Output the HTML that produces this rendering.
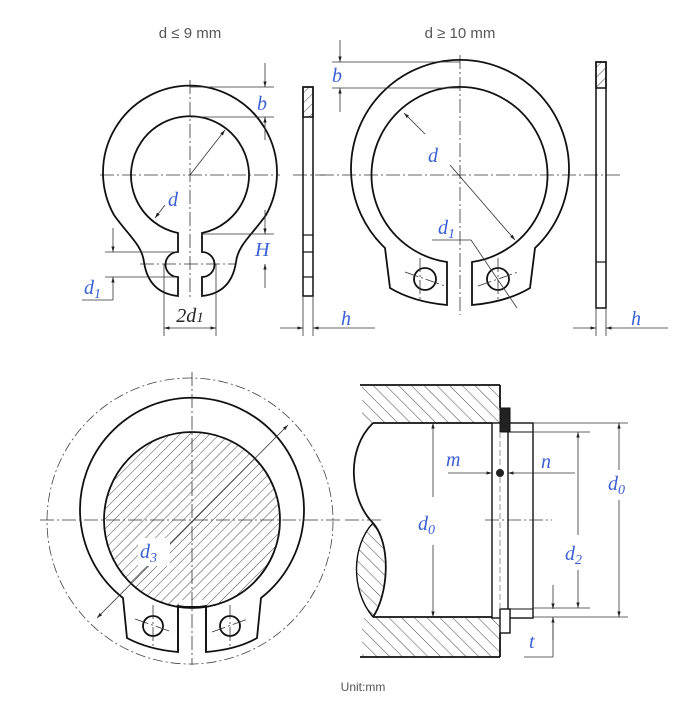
<!DOCTYPE html>
<html><head><meta charset="utf-8"><style>
html,body{margin:0;padding:0;background:#fff;}
svg{display:block;}
.l{fill:none;stroke:#111;stroke-width:1.8;}
.t{fill:none;stroke:#333;stroke-width:0.8;}
.c{fill:none;stroke:#333;stroke-width:0.8;stroke-dasharray:14 3 2 3;}
.lab{font-family:"Liberation Serif",serif;font-style:italic;fill:#3a5fd6;font-size:20px;}
.ti{font-family:"Liberation Sans",sans-serif;fill:#555;font-size:15px;}
</style></head><body>
<svg width="685" height="725" viewBox="0 0 685 725" xmlns="http://www.w3.org/2000/svg">
<defs>
<pattern id="h" width="7" height="7" patternUnits="userSpaceOnUse" patternTransform="rotate(45)">
<line x1="0" y1="0" x2="0" y2="7" stroke="#333" stroke-width="0.9"/></pattern>
<pattern id="h2" width="9" height="9" patternUnits="userSpaceOnUse" patternTransform="rotate(-45)">
<line x1="0" y1="0" x2="0" y2="9" stroke="#333" stroke-width="0.9"/></pattern>
<marker id="a" viewBox="0 0 10 10" refX="10" refY="5" markerWidth="7" markerHeight="7" orient="auto-start-reverse"><path d="M0,2 L10,5 L0,8z" fill="#222"/></marker>
</defs>
<text class="ti" x="190" y="38" text-anchor="middle">d ≤ 9 mm</text>
<text class="ti" x="460" y="38" text-anchor="middle">d ≥ 10 mm</text>

<!-- top-left ring -->
<line class="c" x1="100" y1="175" x2="280" y2="175"/>
<line class="c" x1="190" y1="80" x2="190" y2="300"/>
<line class="c" x1="140" y1="264" x2="235" y2="264"/>
<path class="l" d="M178,296 L178,277 A12,12 0 0 1 178,252 L178,233 A59,59 0 1 1 202,233 L202,252 A12,12 0 0 1 202,277 L202,296 C222,294 233,282 236,262 C238,245 252,235 266,215 A87,87 0 1 0 114,215 C128,235 142,245 144,262 C147,282 158,294 178,296 Z"/>
<line class="t" x1="190" y1="175" x2="225" y2="130" marker-end="url(#a)"/>
<line class="t" x1="165" y1="205" x2="155" y2="218" marker-end="url(#a)"/>
<text class="lab" x="168" y="206">d</text>
<!-- b -->
<line class="t" x1="190" y1="87" x2="274" y2="87"/>
<line class="t" x1="190" y1="117" x2="274" y2="117"/>
<line class="t" x1="265" y1="63" x2="265" y2="87" marker-end="url(#a)"/>
<line class="t" x1="265" y1="140" x2="265" y2="117" marker-end="url(#a)"/>
<text class="lab" x="257" y="110">b</text>
<!-- H -->
<line class="t" x1="202" y1="234" x2="274" y2="234"/>
<line class="t" x1="265" y1="210" x2="265" y2="234" marker-end="url(#a)"/>
<line class="t" x1="265" y1="288" x2="265" y2="264" marker-end="url(#a)"/>
<text class="lab" x="255" y="256">H</text>
<!-- d1 -->
<line class="t" x1="105" y1="252" x2="178" y2="252"/>
<line class="t" x1="105" y1="277" x2="178" y2="277"/>
<line class="t" x1="113" y1="228" x2="113" y2="252" marker-end="url(#a)"/>
<line class="t" x1="113" y1="300" x2="113" y2="277" marker-end="url(#a)"/>
<line class="t" x1="82" y1="300" x2="113" y2="300"/>
<text class="lab" x="84" y="294">d<tspan font-size="14" dy="4">1</tspan></text>
<!-- 2d1 -->
<line class="t" x1="164" y1="264" x2="164" y2="336"/>
<line class="t" x1="216" y1="264" x2="216" y2="336"/>
<line class="t" x1="164" y1="328" x2="216" y2="328" marker-start="url(#a)" marker-end="url(#a)"/>
<text x="190" y="322" text-anchor="middle" font-family="Liberation Serif,serif" font-style="italic" font-size="20" fill="#222">2d<tspan font-size="15">1</tspan></text>
<!-- side view small -->
<line class="c" x1="293" y1="175" x2="325" y2="175"/>
<rect class="l" x="303" y="87" width="10" height="209" style="stroke-width:1.5"/>
<rect x="303" y="87" width="10" height="30" fill="url(#h)" stroke="#111" stroke-width="1.5"/>
<line class="l" x1="303" y1="235" x2="313" y2="235" style="stroke-width:1.2"/>
<line class="l" x1="303" y1="252" x2="313" y2="252" style="stroke-width:1.2"/>
<line class="l" x1="303" y1="277" x2="313" y2="277" style="stroke-width:1.2"/>
<line class="t" x1="303" y1="296" x2="303" y2="336"/>
<line class="t" x1="313" y1="296" x2="313" y2="336"/>
<line class="t" x1="280" y1="328" x2="303" y2="328" marker-end="url(#a)"/>
<line class="t" x1="375" y1="328" x2="313" y2="328" marker-end="url(#a)"/>
<text class="lab" x="341" y="325">h</text>

<!-- top-right ring -->
<line class="c" x1="320" y1="175" x2="620" y2="175"/>
<line class="c" x1="460" y1="55" x2="460" y2="315"/>
<path class="l" d="M447,305 L447,262 A88,88 0 1 1 472,262 L472,305 C495,303 515,297 530,288 L535,248 A109,109 0 1 0 385,248 L390,288 C405,297 425,303 447,305 Z"/>
<circle class="l" cx="425" cy="279" r="11"/>
<circle class="l" cx="498" cy="279" r="11"/>
<line class="c" x1="405" y1="272" x2="445" y2="286"/><line class="c" x1="420" y1="258" x2="420" y2="300"/>
<line class="c" x1="478" y1="286" x2="518" y2="272"/><line class="c" x1="498" y1="258" x2="498" y2="300"/>
<line class="t" x1="450" y1="165" x2="515" y2="240" marker-end="url(#a)"/>
<line class="t" x1="425" y1="134" x2="404" y2="113" marker-end="url(#a)"/>
<text class="lab" x="428" y="162">d</text>
<line class="t" x1="432" y1="240" x2="471" y2="240"/>
<line class="t" x1="471" y1="240" x2="517" y2="308"/>
<text class="lab" x="438" y="234">d<tspan font-size="14" dy="4">1</tspan></text>
<!-- b -->
<line class="t" x1="332" y1="62" x2="460" y2="62"/>
<line class="t" x1="332" y1="88" x2="460" y2="88"/>
<line class="t" x1="340" y1="40" x2="340" y2="62" marker-end="url(#a)"/>
<line class="t" x1="340" y1="112" x2="340" y2="88" marker-end="url(#a)"/>
<text class="lab" x="332" y="82">b</text>
<!-- side view big -->
<rect class="l" x="596" y="62" width="10" height="246" style="stroke-width:1.5"/>
<rect x="596" y="62" width="10" height="26" fill="url(#h)" stroke="#111" stroke-width="1.5"/>
<line class="l" x1="596" y1="262" x2="606" y2="262" style="stroke-width:1.2"/>
<line class="t" x1="596" y1="308" x2="596" y2="336"/>
<line class="t" x1="606" y1="308" x2="606" y2="336"/>
<line class="t" x1="573" y1="328" x2="596" y2="328" marker-end="url(#a)"/>
<line class="t" x1="668" y1="328" x2="606" y2="328" marker-end="url(#a)"/>
<text class="lab" x="631" y="325">h</text>

<!-- bottom-left -->
<circle cx="190" cy="521" r="143" fill="none" stroke="#444" stroke-width="0.8" stroke-dasharray="10 3 2 3"/>
<circle cx="192" cy="520" r="88" fill="url(#h)" stroke="#111" stroke-width="1.8"/>
<path class="l" d="M178,652 L178,606 L206,606 L206,652 C230,650 245,645 257,638 L261,598 A112,112 0 1 0 123,598 L127,638 C140,645 155,650 178,652 Z" style="fill:none"/>
<rect x="179" y="600" width="26" height="6" fill="#fff"/>
<path class="l" d="M178,652 L178,606 M206,606 L206,652"/>
<path d="M178,606 A88,88 0 0 0 206,606" class="l"/>
<circle class="l" cx="153" cy="626" r="10" style="fill:#fff"/>
<circle class="l" cx="230" cy="626" r="10" style="fill:#fff"/>
<line class="c" x1="135" y1="619" x2="172" y2="632"/><line class="c" x1="153" y1="605" x2="153" y2="648"/>
<line class="c" x1="212" y1="632" x2="248" y2="619"/><line class="c" x1="230" y1="605" x2="230" y2="648"/>
<line class="c" x1="40" y1="520" x2="340" y2="520"/>
<line class="c" x1="192" y1="372" x2="192" y2="665"/>
<line class="t" x1="97" y1="618" x2="288" y2="425" marker-start="url(#a)" marker-end="url(#a)"/>
<rect x="138" y="538" width="32" height="28" fill="#fff"/>
<text class="lab" x="140" y="558">d<tspan font-size="14" dy="4">3</tspan></text>

<!-- bottom-right -->
<rect x="362" y="386" width="138" height="37" fill="url(#h2)"/>
<rect x="362" y="618" width="138" height="39" fill="url(#h2)"/>
<line class="l" x1="360" y1="385" x2="500" y2="385"/>
<line class="l" x1="360" y1="657" x2="500" y2="657"/>
<line class="l" x1="373" y1="423" x2="492" y2="423"/>
<line class="l" x1="373" y1="617" x2="492" y2="617"/>
<line class="l" x1="500" y1="385" x2="500" y2="408"/>
<line class="l" x1="500" y1="633" x2="500" y2="657"/>
<path d="M373,523 C385,540 392,580 373,617 C352,590 350,545 373,523 Z" fill="url(#h2)"/>
<path class="l" d="M373,423 C345,450 350,500 373,523 C392,545 388,595 373,617"/>
<path class="l" d="M373,523 C352,545 350,590 373,617" style="stroke-width:1.4"/>
<rect class="l" x="492" y="423" width="41" height="195" style="stroke-width:1.4"/>
<line class="l" x1="508" y1="423" x2="508" y2="618" style="stroke-width:1.4"/>
<line class="l" x1="500" y1="432" x2="533" y2="432" style="stroke-width:1"/>
<line class="l" x1="500" y1="609" x2="533" y2="609" style="stroke-width:1"/>
<rect x="500" y="408" width="10" height="24" fill="#222" stroke="#111"/>
<rect x="500" y="609" width="10" height="24" fill="#fff" stroke="#111" stroke-width="1.4"/>
<line x1="500" y1="432" x2="500" y2="609" stroke="#999" stroke-width="1" stroke-dasharray="6 3"/>
<line class="c" x1="345" y1="520" x2="383" y2="520"/>
<line class="c" x1="485" y1="520" x2="552" y2="520"/>
<!-- d0 left -->
<line class="t" x1="433" y1="497" x2="433" y2="423" marker-end="url(#a)"/>
<line class="t" x1="433" y1="545" x2="433" y2="617" marker-end="url(#a)"/>
<text class="lab" x="418" y="530">d<tspan font-size="14" dy="4">0</tspan></text>
<!-- m n -->
<line class="t" x1="448" y1="473" x2="492" y2="473" marker-end="url(#a)"/>
<line class="t" x1="575" y1="473" x2="508" y2="473" marker-end="url(#a)"/>
<circle cx="500" cy="473" r="4" fill="#222"/>
<text class="lab" x="446" y="466">m</text>
<text class="lab" x="541" y="468">n</text>
<!-- d2 -->
<line class="t" x1="533" y1="432" x2="590" y2="432"/>
<line class="t" x1="533" y1="608" x2="590" y2="608"/>
<line class="t" x1="578" y1="535" x2="578" y2="432" marker-end="url(#a)"/>
<line class="t" x1="578" y1="570" x2="578" y2="608" marker-end="url(#a)"/>
<text class="lab" x="565" y="560">d<tspan font-size="14" dy="4">2</tspan></text>
<!-- d0 right -->
<line class="t" x1="533" y1="423" x2="628" y2="423"/>
<line class="t" x1="533" y1="617" x2="628" y2="617"/>
<line class="t" x1="619" y1="470" x2="619" y2="423" marker-end="url(#a)"/>
<line class="t" x1="619" y1="500" x2="619" y2="617" marker-end="url(#a)"/>
<text class="lab" x="608" y="490">d<tspan font-size="14" dy="4">0</tspan></text>
<!-- t -->
<line class="t" x1="553" y1="585" x2="553" y2="609" marker-end="url(#a)"/>
<line class="t" x1="553" y1="640" x2="553" y2="617" marker-end="url(#a)"/>
<line class="t" x1="553" y1="617" x2="553" y2="657"/>
<line class="t" x1="524" y1="657" x2="553" y2="657"/>
<text class="lab" x="529" y="648">t</text>

<text x="363" y="691" text-anchor="middle" font-family="Liberation Sans,sans-serif" font-size="12" fill="#555">Unit:mm</text>
</svg>
</body></html>
